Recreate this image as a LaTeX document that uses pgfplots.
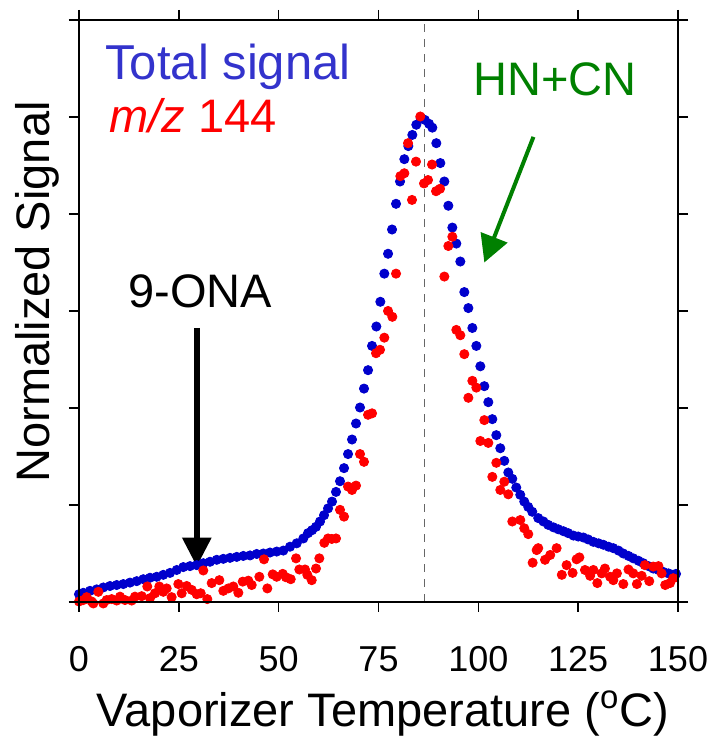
\documentclass[border=0pt]{standalone}
\usepackage{fontspec}
\setmainfont{Liberation Sans}
\usepackage{pgfplots}
\pgfplotsset{compat=1.18}
\usetikzlibrary{arrows.meta}
\definecolor{tblue}{RGB}{51,51,204}
\definecolor{dblue}{RGB}{0,0,204}
\definecolor{dred}{RGB}{255,0,0}
\definecolor{dgreen}{RGB}{0,128,0}
\pgfplotstableread{
T S
0 0.016
1.08 0.019
2.75 0.023
4.43 0.026
6.09 0.030
7.76 0.033
9.44 0.035
11.1 0.037
12.77 0.040
14.45 0.043
16.1 0.047
17.78 0.050
19.46 0.052
21.11 0.056
22.79 0.060
24.47 0.066
26.12 0.072
27.8 0.074
29.48 0.076
31.13 0.080
32.81 0.083
34.49 0.087
36.14 0.089
37.82 0.091
39.5 0.093
41.15 0.095
42.83 0.096
44.5 0.099
46.16 0.100
47.83 0.102
49.51 0.104
51.16 0.106
52.84 0.114
54.52 0.121
56.17 0.131
57.35 0.142
58.35 0.148
59.35 0.155
60.36 0.166
61.36 0.179
62.36 0.193
63.36 0.207
64.36 0.227
65.36 0.249
66.37 0.276
67.37 0.305
68.37 0.335
69.37 0.368
70.37 0.401
71.37 0.440
72.38 0.478
73.38 0.528
74.46 0.568
75.46 0.619
76.46 0.677
77.39 0.718
78.39 0.768
79.39 0.821
80.39 0.867
81.47 0.913
82.47 0.940
83.47 0.963
84.47 0.984
85.55 0.998
86.6 0.994
87.65 0.986
88.48 0.978
89.48 0.946
90.48 0.905
91.49 0.867
92.49 0.817
93.49 0.772
94.49 0.739
95.49 0.702
96.49 0.639
97.5 0.606
98.5 0.565
99.5 0.528
100.5 0.486
101.5 0.445
102.5 0.412
103.5 0.377
104.5 0.344
105.5 0.317
106.5 0.291
107.5 0.267
108.5 0.254
109.5 0.236
110.5 0.221
111.5 0.207
112.5 0.196
113.5 0.186
115.0 0.173
116.3 0.166
117.5 0.159
118.8 0.154
120.0 0.150
121.3 0.146
122.5 0.142
123.8 0.137
125.0 0.135
126.3 0.133
127.5 0.129
128.8 0.124
130.1 0.121
131.3 0.118
132.6 0.114
133.8 0.111
135.1 0.106
136.3 0.100
137.6 0.095
138.8 0.090
140.1 0.085
141.3 0.080
142.6 0.074
143.8 0.069
145.1 0.066
146.3 0.062
147.6 0.059
148.7 0.056
149.5 0.058
}\totaltable
\pgfplotstableread{
T S
0 0.001
1.08 0.004
1.92 0.010
3.17 0.001
3.59 -0.003
4.84 0.021
6.09 -0.003
6.93 0.004
8.18 0.006
9.44 0.003
10.27 0.011
11.52 0.004
13.2 0.003
14.02 0.011
15.7 0.012
17.1 0.032
17.78 0.008
19.03 0.018
20.11 0.032
21.11 0.021
21.96 0.028
23.2 0.010
24.87 0.037
25.72 0.018
26.97 0.033
28.22 0.025
29.48 0.016
30.48 0.018
31.13 0.065
32.13 0.006
33.23 0.039
35.14 0.045
36.14 0.023
37.39 0.028
38.64 0.032
39.9 0.019
41.0 0.042
42.4 0.044
43.25 0.035
45.16 0.052
46.33 0.088
47.16 0.028
48.51 0.057
49.51 0.052
51.01 0.058
51.84 0.051
53.02 0.047
54.35 0.090
55.17 0.067
56.6 0.067
57.18 0.056
58.28 0.045
59.35 0.069
60.18 0.090
61.43 0.122
62.36 0.131
63.3 0.130
64.36 0.131
65.36 0.190
66.37 0.176
67.37 0.238
68.37 0.231
69.37 0.240
70.37 0.305
71.37 0.289
72.38 0.386
73.38 0.389
74.38 0.513
75.38 0.520
76.46 0.545
77.39 0.600
78.46 0.588
79.39 0.677
80.47 0.878
81.47 0.884
82.39 0.946
83.39 0.829
84.39 0.908
85.47 1.001
86.4 0.863
87.4 0.870
88.4 0.902
89.41 0.847
90.41 0.852
91.49 0.671
92.49 0.734
93.49 0.753
94.49 0.561
95.49 0.550
96.49 0.511
97.5 0.421
98.5 0.456
99.5 0.442
100.5 0.332
101.5 0.375
102.5 0.328
103.5 0.258
104.5 0.287
105.5 0.231
106.5 0.248
107.5 0.222
108.5 0.166
110.5 0.169
111.5 0.152
112.5 0.140
113.6 0.081
114.6 0.107
115.0 0.111
116.7 0.087
118.0 0.097
119.6 0.111
120.9 0.056
122.1 0.076
123.6 0.060
124.6 0.088
125.3 0.092
126.7 0.066
128.0 0.054
128.8 0.066
129.8 0.039
130.9 0.059
131.7 0.069
133.0 0.052
133.8 0.045
134.7 0.059
136.3 0.037
137.6 0.067
138.8 0.059
139.7 0.037
140.9 0.054
141.7 0.076
142.8 0.043
143.8 0.073
145.1 0.074
145.9 0.059
146.8 0.035
148.0 0.039
148.8 0.049
}\redtable
\begin{document}
\begin{tikzpicture}
\useasboundingbox (-39.5pt,-72.5pt) rectangle (320pt,301pt);
\begin{axis}[
  at={(0pt,0pt)}, anchor=south west,
  scale only axis, width=299.5pt, height=291pt,
  xmin=0, xmax=150, ymin=0, ymax=1.2,
  xtick={0,25,...,150}, ytick={0,0.2,0.4,0.6,0.8,1.0,1.2},
  yticklabels={},
  tick align=outside, major tick length=5pt,
  tick style={line width=0.8pt, black},
  axis line style={line width=0.8pt},
  xticklabel style={font=\fontsize{18}{20}\selectfont, anchor=base, yshift=-29.5pt},
  /pgf/number format/assume math mode=true,
  clip=false,
]
\addplot[only marks, mark=*, mark size=2.3pt, mark options={draw=dblue, fill=dblue}] table[x=T, y=S] {\totaltable};
\addplot[only marks, mark=*, mark size=2.3pt, mark options={draw=dred, fill=dred}] table[x=T, y=S] {\redtable};
\draw[black!60, dash pattern=on 4pt off 3.5pt, line width=0.6pt] (axis cs:86.6,0) -- (axis cs:86.6,1.2);
\draw[black, line width=3pt, -{Triangle[length=14.5pt,width=14pt]}] (axis cs:29.5,0.565) -- (axis cs:29.5,0.073);
\draw[dgreen, line width=2pt, -{Triangle[length=13.5pt,width=14pt]}] (axis cs:113.8,0.959) -- (axis cs:101.5,0.700);
\end{axis}
\draw[line width=0.8pt] (-5pt,0pt) -- (304.5pt,0pt);
\draw[line width=0.8pt] (-5pt,291pt) -- (304.5pt,291pt);
\draw[line width=0.8pt] (0pt,-5pt) -- (0pt,296pt);
\draw[line width=0.8pt] (299.5pt,-5pt) -- (299.5pt,296pt);
\node[anchor=base west, inner sep=0, text=tblue, font=\fontsize{24.5}{29}\selectfont] at (13pt,261pt) {Total signal};
\node[anchor=base west, inner sep=0, text=dred, font=\fontsize{23.5}{28}\selectfont] at (15pt,234.5pt) {\textit{m/z} 144};
\node[anchor=base west, inner sep=0, text=dgreen, font=\fontsize{23.5}{28}\selectfont] at (197pt,253pt) {HN+CN};
\node[anchor=base west, inner sep=0, text=black, font=\fontsize{23.5}{28}\selectfont] at (24.5pt,147pt) {9-ONA};
\node[rotate=90, anchor=base, inner sep=0, font=\fontsize{23.5}{28}\selectfont] at (-14.5pt,155pt) {Normalized Signal};
\node[anchor=base, inner sep=0, font=\fontsize{23.5}{28}\selectfont] at (152pt,-62.5pt) {Vaporizer Temperature (\textsuperscript{o}C)};
\end{tikzpicture}
\end{document}
